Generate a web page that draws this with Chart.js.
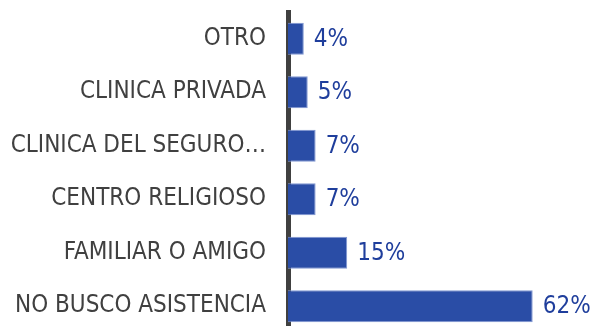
<!DOCTYPE html>
<html lang="es">
<head>
    <meta charset="UTF-8">
    <title>Asistencia</title>
    <script src="https://cdn.jsdelivr.net/npm/chart.js"></script>
    <style>
        body {
            margin: 0;
            padding: 0;
            background: #ffffff;
            overflow: hidden;
        }
        .chart-box {
            position: relative;
            width: 603px;
            height: 334px;
        }
    </style>
</head>
<body>
    <div class="chart-box">
        <canvas id="asistenciaChart"></canvas>
    </div>

    <script>
        const categorias = ['OTRO', 'CLINICA PRIVADA', 'CLINICA DEL SEGURO\u2026', 'CENTRO RELIGIOSO', 'FAMILIAR O AMIGO', 'NO BUSCO ASISTENCIA'];
        const porcentajes = [4, 5, 7, 7, 15, 62];

        const fuente = { family: "'DejaVu Sans Condensed', 'DejaVu Sans', sans-serif", size: 24 };

        // etiqueta con el porcentaje al final de cada barra
        const etiquetas = {
            id: 'etiquetas',
            afterDatasetsDraw(chart) {
                const ctx = chart.ctx;
                const meta = chart.getDatasetMeta(0);
                ctx.save();
                ctx.font = fuente.size + 'px ' + fuente.family;
                ctx.fillStyle = '#1F3E9C';
                ctx.textAlign = 'left';
                ctx.textBaseline = 'middle';
                meta.data.forEach((bar, i) => {
                    ctx.fillText(porcentajes[i] + '%', bar.x + 10, bar.y + 1);
                });
                ctx.restore();
            }
        };

        const ctx = document.getElementById('asistenciaChart').getContext('2d');
        new Chart(ctx, {
            type: 'bar',
            data: {
                labels: categorias,
                datasets: [{
                    data: porcentajes,
                    backgroundColor: '#2A4DA6',
                    borderColor: '#8097D2',
                    borderWidth: 1,
                    barPercentage: 0.6,
                    categoryPercentage: 1
                }]
            },
            options: {
                indexAxis: 'y',
                responsive: true,
                maintainAspectRatio: false,
                animation: false,
                layout: { padding: { top: 12, bottom: 1, left: 0, right: 19 } },
                plugins: {
                    legend: { display: false },
                    tooltip: { enabled: false }
                },
                scales: {
                    x: {
                        display: false,
                        min: 0,
                        max: 75
                    },
                    y: {
                        z: 1,
                        afterFit(scale) {
                            // ancho fijo del eje y sin relleno vertical extra
                            scale.width = 288;
                            scale.paddingTop = 0;
                            scale.paddingBottom = 0;
                        },
                        grid: { display: false, drawTicks: false },
                        border: { display: true, color: '#404040', width: 5 },
                        ticks: {
                            color: '#404040',
                            padding: 22,
                            font: fuente
                        }
                    }
                }
            },
            plugins: [etiquetas]
        });
    </script>
</body>
</html>
